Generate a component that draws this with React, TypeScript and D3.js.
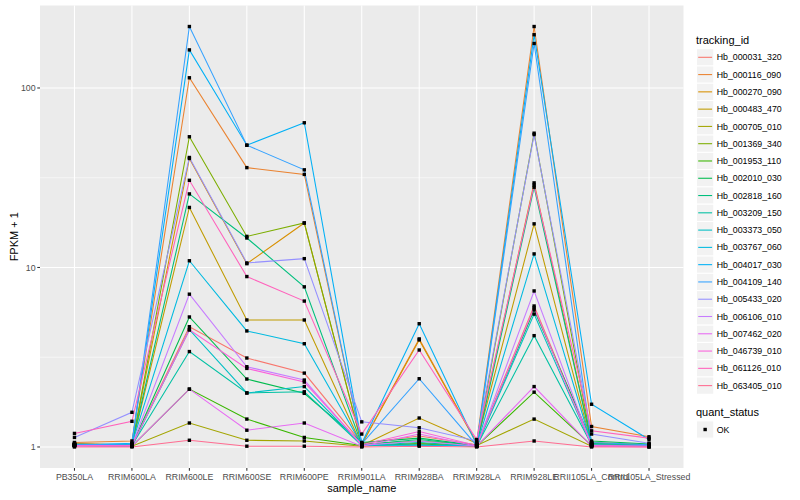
import React from 'react';
import * as d3 from 'd3';

const sampleNames = ['PB350LA', 'RRIM600LA', 'RRIM600LE', 'RRIM600SE', 'RRIM600PE', 'RRIM901LA', 'RRIM928BA', 'RRIM928LA', 'RRIM928LE', 'RRII105LA_Control', 'RRII105LA_Stressed'];

const trackingIds = ['Hb_000031_320', 'Hb_000116_090', 'Hb_000270_090', 'Hb_000483_470', 'Hb_000705_010', 'Hb_001369_340', 'Hb_001953_110', 'Hb_002010_030', 'Hb_002818_160', 'Hb_003209_150', 'Hb_003373_050', 'Hb_003767_060', 'Hb_004017_030', 'Hb_004109_140', 'Hb_005433_020', 'Hb_006106_010', 'Hb_007462_020', 'Hb_046739_010', 'Hb_061126_010', 'Hb_063405_010'];

// FPKM + 1 per sample (same order as sampleNames)
const hb_000031_320 = [1.05, 1.02, 4.68, 3.13, 2.58, 1.05, 1.15, 1.03, 6.1, 1.04, 1.02];
const hb_000116_090 = [1.06, 1.08, 114, 36, 33, 1.04, 4.0, 1.06, 220, 1.3, 1.14];
const hb_000270_090 = [1.04, 1.03, 40.5, 10.5, 17.7, 1.03, 3.95, 1.05, 29.6, 1.06, 1.03];
const hb_000483_470 = [1.03, 1.02, 21.6, 5.1, 5.1, 1.02, 1.45, 1.05, 17.5, 1.03, 1.02];
const hb_000705_010 = [1.02, 1.01, 1.36, 1.09, 1.08, 1.01, 1.05, 1.02, 1.43, 1.01, 1.01];
const hb_001369_340 = [1.03, 1.02, 53.5, 14.9, 17.7, 1.04, 1.08, 1.03, 56, 1.05, 1.03];
const hb_001953_110 = [1.02, 1.01, 2.1, 1.43, 1.13, 1.02, 1.04, 1.01, 2.02, 1.02, 1.01];
const hb_002010_030 = [1.03, 1.02, 5.3, 2.39, 1.99, 1.06, 1.12, 1.02, 5.8, 1.08, 1.04];
const hb_002818_160 = [1.04, 1.03, 25.7, 14.6, 7.8, 1.03, 1.1, 1.02, 28, 1.05, 1.02];
const hb_003209_150 = [1.02, 1.02, 3.4, 2.0, 2.03, 1.02, 1.06, 1.01, 4.17, 1.03, 1.01];
const hb_003373_050 = [1.02, 1.01, 4.5, 2.0, 2.17, 1.02, 1.03, 1.01, 5.5, 1.02, 1.01];
const hb_003767_060 = [1.03, 1.04, 10.9, 4.43, 3.76, 1.03, 1.02, 1.02, 11.9, 1.03, 1.02];
const hb_004017_030 = [1.02, 1.05, 163, 48, 64, 1.05, 4.86, 1.03, 198, 1.73, 1.1];
const hb_004109_140 = [1.03, 1.04, 220, 48, 35, 1.04, 2.4, 1.02, 177, 1.06, 1.03];
const hb_005433_020 = [1.13, 1.56, 41, 10.6, 11.2, 1.38, 1.28, 1.08, 55, 1.18, 1.05];
const hb_006106_010 = [1.02, 1.02, 7.1, 2.8, 2.36, 1.02, 1.08, 1.01, 7.4, 1.02, 1.01];
const hb_007462_020 = [1.01, 1.01, 2.1, 1.24, 1.36, 1.01, 1.18, 1.01, 2.17, 1.01, 1.0];
const hb_046739_010 = [1.02, 1.02, 4.49, 2.74, 2.3, 1.03, 1.22, 1.02, 5.96, 1.02, 1.01];
const hb_061126_010 = [1.19, 1.39, 30.6, 8.9, 6.5, 1.18, 3.47, 1.1, 28.8, 1.23, 1.12];
const hb_063405_010 = [1.0, 1.0, 1.09, 1.01, 1.01, 1.0, 1.01, 1.0, 1.08, 1.0, 1.0];

const seriesValues = [hb_000031_320, hb_000116_090, hb_000270_090, hb_000483_470, hb_000705_010, hb_001369_340, hb_001953_110, hb_002010_030, hb_002818_160, hb_003209_150, hb_003373_050, hb_003767_060, hb_004017_030, hb_004109_140, hb_005433_020, hb_006106_010, hb_007462_020, hb_046739_010, hb_061126_010, hb_063405_010];

const yTicks = [1, 10, 100];
const quantStatus = ['OK'];

const palette = ['#F8766D', '#EA8331', '#D89000', '#C09B00', '#A3A500', '#7CAE00', '#39B600', '#00BB4E', '#00BF7D', '#00C1A3', '#00BFC4', '#00BAE0', '#00B0F6', '#35A2FF', '#9590FF', '#C77CFF', '#E76BF3', '#FA62DB', '#FF62BC', '#FF6C91'];

const FONT = '"Liberation Sans", Arial, Helvetica, sans-serif';

export default function App() {
  const W = 800, H = 500;
  const pl = 40, pr = 683.5, pt = 5.5, pb = 468;

  const x = d3.scalePoint<string>().domain(sampleNames).range([pl, pr]).padding(0.6);

  const all = seriesValues.flat();
  const lo = Math.log10(d3.min(all) as number);
  const hi = Math.log10(d3.max(all) as number);
  const ex = (hi - lo) * 0.05;
  const y = d3.scaleLog().domain([Math.pow(10, lo - ex), Math.pow(10, hi + ex)]).range([pb, pt]);

  const minor = [Math.pow(10, 0.5), Math.pow(10, 1.5)];

  const line = d3.line<number>()
    .x((_, i) => x(sampleNames[i]) as number)
    .y((d) => y(d));

  const legX = 696;
  const keyH = 17.28;
  const firstKey = 57.3;

  return (
    <svg width={W} height={H} style={{ position: 'absolute', left: 0, top: 0, background: '#fff' }} fontFamily={FONT}>
      <rect x={pl} y={pt} width={pr - pl} height={pb - pt} fill="#EBEBEB" />
      {minor.map((m) => (
        <line key={'mn' + m} x1={pl} x2={pr} y1={y(m)} y2={y(m)} stroke="#fff" strokeWidth={0.55} />
      ))}
      {yTicks.map((t) => (
        <line key={'mj' + t} x1={pl} x2={pr} y1={y(t)} y2={y(t)} stroke="#fff" strokeWidth={1.07} />
      ))}
      {sampleNames.map((s) => (
        <line key={'vx' + s} x1={x(s)} x2={x(s)} y1={pt} y2={pb} stroke="#fff" strokeWidth={1.07} />
      ))}

      {seriesValues.map((vals, i) => (
        <path key={'l' + i} d={line(vals) as string} fill="none" stroke={palette[i]} strokeWidth={1.07} />
      ))}
      {seriesValues.map((vals, i) =>
        vals.map((v, j) => (
          <rect key={'p' + i + '-' + j} x={(x(sampleNames[j]) as number) - 1.7} y={y(v) - 1.7} width={3.4} height={3.4} fill="#000" />
        ))
      )}

      {/* y axis */}
      {yTicks.map((t) => (
        <g key={'yt' + t}>
          <line x1={pl - 2.74} x2={pl} y1={y(t)} y2={y(t)} stroke="#333333" strokeWidth={1.07} />
          <text x={pl - 4.4} y={y(t)} dy="0.35em" textAnchor="end" fontSize={8.8} fill="#4D4D4D">{t}</text>
        </g>
      ))}
      <text transform={`translate(14.5,${(pt + pb) / 2}) rotate(-90)`} textAnchor="middle" fontSize={11} fill="#000" dy="0.35em">FPKM + 1</text>

      {/* x axis */}
      {sampleNames.map((s) => (
        <g key={'xt' + s}>
          <line x1={x(s)} x2={x(s)} y1={pb} y2={pb + 2.74} stroke="#333333" strokeWidth={1.07} />
          <text x={x(s)} y={480} textAnchor="middle" fontSize={8.8} fill="#4D4D4D">{s}</text>
        </g>
      ))}
      <text x={(pl + pr) / 2} y={492} textAnchor="middle" fontSize={11} fill="#000">sample_name</text>

      {/* legend: tracking_id */}
      <text x={legX} y={43.5} fontSize={11} fill="#000">tracking_id</text>
      {trackingIds.map((id, i) => {
        const cy = firstKey + i * keyH;
        return (
          <g key={'lg' + id}>
            <rect x={legX + 0.5} y={cy - keyH / 2} width={keyH} height={keyH} fill="#F2F2F2" stroke="#fff" strokeWidth={1} />
            <line x1={legX + 2.2} x2={legX + keyH - 1.2} y1={cy} y2={cy} stroke={palette[i]} strokeWidth={1.07} />
            <text x={legX + 20.7} y={cy} dy="0.35em" fontSize={8.8} fill="#000">{id}</text>
          </g>
        );
      })}

      {/* legend: quant_status */}
      <text x={legX} y={415.5} fontSize={11} fill="#000">quant_status</text>
      {quantStatus.map((q, i) => {
        const cy = 429.5 + i * keyH;
        return (
          <g key={'qs' + q}>
            <rect x={legX + 0.5} y={cy - keyH / 2} width={keyH} height={keyH} fill="#F2F2F2" stroke="#fff" strokeWidth={1} />
            <rect x={legX + 0.5 + keyH / 2 - 1.7} y={cy - 1.7} width={3.4} height={3.4} fill="#000" />
            <text x={legX + 20.7} y={cy} dy="0.35em" fontSize={8.8} fill="#000">{q}</text>
          </g>
        );
      })}
    </svg>
  );
}
